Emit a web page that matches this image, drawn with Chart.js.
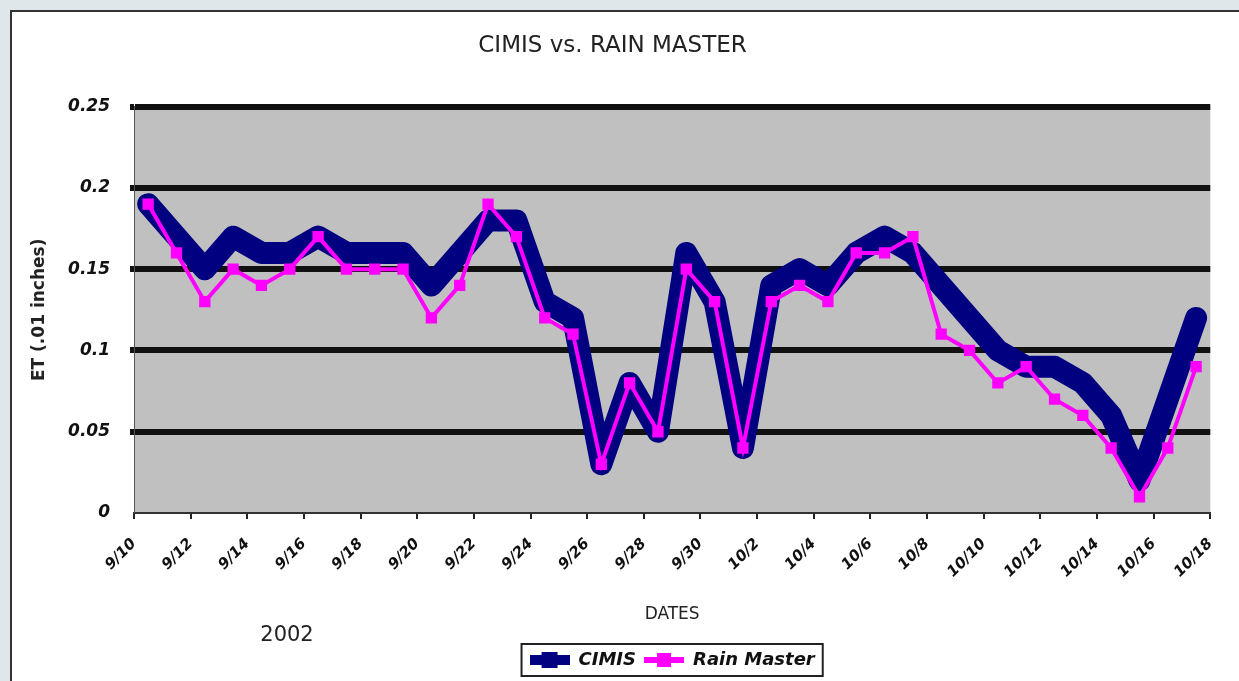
<!DOCTYPE html>
<html>
<head>
<meta charset="utf-8">
<script src="https://cdn.jsdelivr.net/npm/chart.js@4/dist/chart.umd.min.js"></script>
<style>
  html, body { margin: 0; padding: 0; background: #dfe7ea; }
  #frame { position: absolute; left: 10px; top: 10px; width: 1229px; height: 671px;
           background: #fff; border-top: 2px solid #333; border-left: 2px solid #333; box-sizing: border-box; }
  #wrap { position: absolute; left: 0; top: 0; width: 1239px; height: 681px; }
</style>
</head>
<body>
<div id="frame"></div>
<div id="wrap"><canvas id="etChart" width="1239" height="681"></canvas></div>
<script>
// one value per day, 9/10 .. 10/17
const days = ['9/10','9/11','9/12','9/13','9/14','9/15','9/16','9/17','9/18','9/19',
              '9/20','9/21','9/22','9/23','9/24','9/25','9/26','9/27','9/28','9/29',
              '9/30','10/1','10/2','10/3','10/4','10/5','10/6','10/7','10/8','10/9',
              '10/10','10/11','10/12','10/13','10/14','10/15','10/16','10/17'];
const cimis = [0.19,0.17,0.15,0.17,0.16,0.16,0.17,0.16,0.16,0.16,
               0.14,0.16,0.18,0.18,0.13,0.12,0.03,0.08,0.05,0.16,
               0.13,0.04,0.14,0.15,0.14,0.16,0.17,0.16,0.14,0.12,
               0.10,0.09,0.09,0.08,0.06,0.02,0.07,0.12];
const rainMaster = [0.19,0.16,0.13,0.15,0.14,0.15,0.17,0.15,0.15,0.15,
                    0.12,0.14,0.19,0.17,0.12,0.11,0.03,0.08,0.05,0.15,
                    0.13,0.04,0.13,0.14,0.13,0.16,0.16,0.17,0.11,0.10,
                    0.08,0.09,0.07,0.06,0.04,0.01,0.04,0.09];
const xTickLabels = ['9/10','9/12','9/14','9/16','9/18','9/20','9/22','9/24','9/26','9/28',
                     '9/30','10/2','10/4','10/6','10/8','10/10','10/12','10/14','10/16','10/18'];
const yTickLabels = ['0','0.05','0.1','0.15','0.2','0.25'];

const FONT = 'DejaVu Sans';
const NAVY = '#000080';
const PINK = '#FF00FF';

// legend symbols: line with a square marker in the middle
function legendSymbol(color, lineW, sq) {
    const c = document.createElement('canvas');
    c.width = 40; c.height = 18;
    const g = c.getContext('2d');
    g.fillStyle = color;
    g.fillRect(0, 9 - lineW / 2, 40, lineW);
    g.fillRect(20 - sq / 2, 9 - sq / 2, sq, sq);
    return c;
}
const symbols = [legendSymbol(NAVY, 10, 16), legendSymbol(PINK, 6, 14)];

const toPoints = (arr) => arr.map((v, i) => ({x: i + 0.5, y: v}));

const plotBg = {
    id: 'plotBg',
    beforeDraw(chart) {
        const {ctx, chartArea: a} = chart;
        ctx.save();
        ctx.fillStyle = '#C0C0C0';
        ctx.fillRect(a.left, a.top, a.right - a.left, a.bottom - a.top);
        ctx.restore();
    },
    afterDraw(chart) {
        const ctx = chart.ctx;
        ctx.save();
        // legend frame
        const boxes = chart.legend.legendHitBoxes;
        if (boxes && boxes.length) {
            let l = Infinity, r = -Infinity, t = Infinity, b = -Infinity;
            boxes.forEach(h => {
                l = Math.min(l, h.left); r = Math.max(r, h.left + h.width);
                t = Math.min(t, h.top); b = Math.max(b, h.top + h.height);
            });
            ctx.strokeStyle = '#222';
            ctx.lineWidth = 2;
            ctx.strokeRect(l - 8, t - 7, r - l + 16, b - t + 14);
        }
        ctx.fillStyle = '#222';
        ctx.font = '21px "' + FONT + '"';
        ctx.textAlign = 'center';
        ctx.textBaseline = 'middle';
        ctx.fillText('2002', 287, 636);
        ctx.restore();
    }
};

new Chart(document.getElementById('etChart').getContext('2d'), {
    type: 'line',
    data: {
        datasets: [
            {
                label: 'CIMIS',
                data: toPoints(cimis),
                borderColor: NAVY,
                backgroundColor: NAVY,
                borderWidth: 22,
                borderJoinStyle: 'round',
                borderCapStyle: 'round',
                pointRadius: 0,
                tension: 0,
                order: 2
            },
            {
                label: 'Rain Master',
                data: toPoints(rainMaster),
                borderColor: PINK,
                backgroundColor: PINK,
                borderWidth: 4,
                pointStyle: 'rect',
                pointRadius: 8,
                pointBorderWidth: 0,
                tension: 0,
                order: 1
            }
        ]
    },
    options: {
        responsive: false,
        animation: false,
        layout: { padding: { top: 10, left: 12, right: 26, bottom: 2 } },
        plugins: {
            tooltip: { enabled: false },
            title: {
                display: true,
                text: 'CIMIS vs. RAIN MASTER',
                color: '#222',
                font: { family: FONT, size: 23, weight: 'normal' },
                padding: { top: 22, bottom: 47 }
            },
            legend: {
                position: 'bottom',
                fullSize: false,
                labels: {
                    color: '#111',
                    font: { family: FONT, size: 18, style: 'italic', weight: 'bold' },
                    usePointStyle: true,
                    pointStyleWidth: 40,
                    padding: 8,
                    generateLabels(chart) {
                        return chart.data.datasets.map((ds, i) => ({
                            text: ds.label,
                            fillStyle: ds.borderColor,
                            strokeStyle: ds.borderColor,
                            lineWidth: 0,
                            pointStyle: symbols[i],
                            datasetIndex: i,
                            fontColor: '#111'
                        }));
                    }
                }
            }
        },
        scales: {
            x: {
                type: 'linear',
                min: 0,
                max: days.length,
                afterFit(scale) { scale.height = 130; },
                ticks: {
                    stepSize: 2,
                    autoSkip: false,
                    minRotation: 45,
                    maxRotation: 45,
                    padding: 16,
                    color: '#111',
                    font: { family: FONT, size: 15, style: 'italic', weight: 'bold' },
                    callback: (v) => xTickLabels[v / 2]
                },
                grid: {
                    drawOnChartArea: false,
                    color: '#222',
                    lineWidth: 2,
                    tickLength: 6
                },
                border: { color: '#333', width: 2 },
                title: {
                    display: true,
                    text: 'DATES',
                    color: '#222',
                    font: { family: FONT, size: 17, weight: 'normal' },
                    padding: { bottom: 18 }
                }
            },
            y: {
                min: 0,
                max: 0.25,
                afterFit(scale) { scale.width = 122; },
                ticks: {
                    stepSize: 0.05,
                    padding: 20,
                    color: '#111',
                    font: { family: FONT, size: 17, style: 'italic', weight: 'bold' },
                    callback: (v, i) => yTickLabels[i]
                },
                grid: {
                    color: '#111',
                    lineWidth: (c) => (c.tick && c.tick.value === 0 ? 0 : 6),
                    tickLength: 4
                },
                border: { color: '#555', width: 1 },
                title: {
                    display: true,
                    text: 'ET (.01 inches)',
                    color: '#222',
                    font: { family: FONT, size: 17, weight: 'bold' },
                    padding: { top: 17 }
                }
            }
        }
    },
    plugins: [plotBg]
});
</script>
</body>
</html>
